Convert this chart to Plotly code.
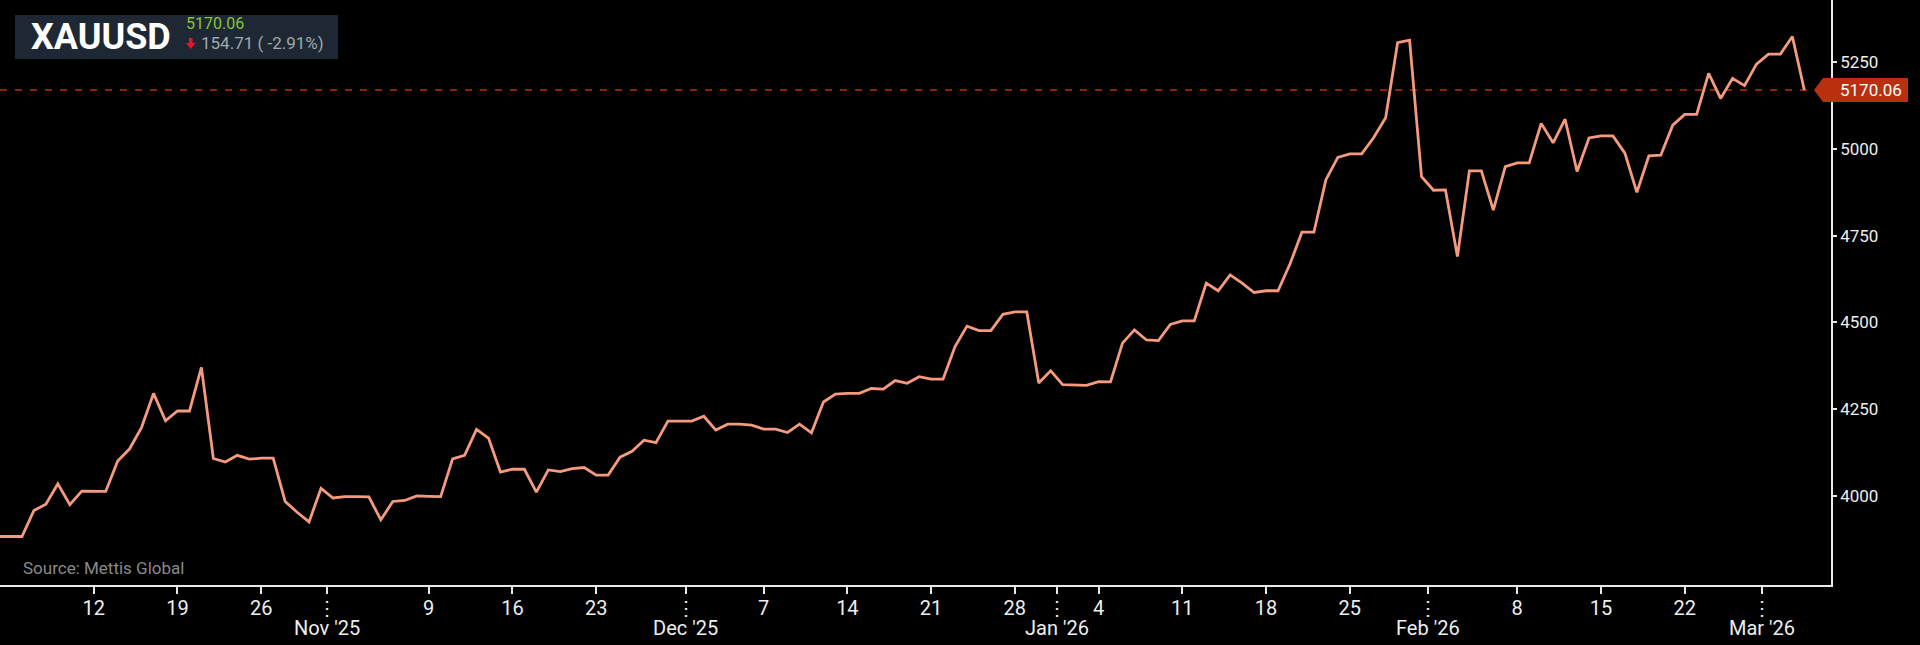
import pandas as pd
import plotly.graph_objects as go

# daily closes (weekend days carry the last quote)
start_date = "2025-10-04"
end_date = "2026-03-04"
oct_vals = [3882, 3882, 3882, 3957, 3975, 4034, 3974, 4013, 4012, 4012, 4100, 4135, 4197, 4295,
            4216, 4244, 4244, 4370, 4107, 4097, 4116, 4105, 4108, 4108, 3983, 3952, 3924, 4021]
nov_vals = [3993, 3997, 3997, 3996, 3930, 3983, 3986, 3999, 3998, 3997, 4106, 4116, 4191, 4166, 4068,
            4076, 4076, 4010, 4074, 4069, 4078, 4081, 4059, 4059, 4111, 4128, 4160, 4153, 4215, 4215]
dec_vals = [4215, 4229, 4189, 4206, 4206, 4203, 4192, 4192, 4182, 4206, 4181, 4270, 4293, 4295, 4295, 4309,
            4307, 4332, 4324, 4343, 4336, 4336, 4430, 4489, 4476, 4476, 4523, 4530, 4530, 4325, 4360]
jan_vals = [4320, 4320, 4318, 4329, 4328, 4440, 4478, 4449, 4447, 4494, 4504, 4504, 4613, 4591, 4637, 4613,
            4586, 4591, 4591, 4668, 4760, 4760, 4911, 4976, 4986, 4986, 5033, 5090, 5307, 5314, 4920]
feb_vals = [4881, 4882, 4690, 4937, 4937, 4824, 4949, 4960, 4960, 5074, 5018, 5086, 4935, 5032,
            5038, 5038, 4988, 4875, 4980, 4982, 5069, 5100, 5100, 5218, 5146, 5204, 5183, 5245]
mar_vals = [5274, 5274, 5324.77, 5170.06]

prices = oct_vals + nov_vals + dec_vals + jan_vals + feb_vals + mar_vals
dates = pd.date_range(start_date, end_date, freq="D")

last_price = prices[-1]
change = prices[-2] - prices[-1]
change_pct = change / prices[-2] * 100

y_ticks = [4000, 4250, 4500, 4750, 5000, 5250]
week_ticks = ["2025-10-12", "2025-10-19", "2025-10-26", "2025-11-09", "2025-11-16", "2025-11-23",
              "2025-12-07", "2025-12-14", "2025-12-21", "2025-12-28", "2026-01-04", "2026-01-11",
              "2026-01-18", "2026-01-25", "2026-02-08", "2026-02-15", "2026-02-22"]
month_ticks = ["2025-10-31 12:00", "2025-11-30 12:00", "2025-12-31 12:00", "2026-01-31 12:00", "2026-02-28 12:00"]
month_labels = ["Nov '25", "Dec '25", "Jan '26", "Feb '26", "Mar '26"]

tickvals = week_ticks + month_ticks
ticktext = [str(pd.Timestamp(d).day) for d in week_ticks] + ["\u22ee"] * len(month_ticks)

W, H = 1920, 645
PW, PH = 1831, 585   # plot area in px


def px(x):
    return x / PW


def py(y):
    return 1 - y / PH


NARROW = "Liberation Sans Narrow, Roboto, sans-serif"
LINE = "#f59a7e"
TAG = "#b9300f"

fig = go.Figure()
fig.add_trace(go.Scatter(x=dates, y=prices, mode="lines",
                         line=dict(color=LINE, width=2.8), hoverinfo="skip"))

half_tag = 12 * (5430 - 3742) / PH
shapes = [
    # last price dashed line
    dict(type="line", xref="paper", yref="y", x0=0, x1=px(1814), y0=last_price, y1=last_price,
         line=dict(color=TAG, width=1.5, dash="7px,8px"), layer="below"),
    # price tag
    dict(type="path", xref="paper", yref="y", fillcolor=TAG, line=dict(width=0), layer="above",
         path="M {a},{v} L {b},{t} L {c},{t} L {c},{bt} L {b},{bt} Z".format(
             a=px(1814), b=px(1823), c=px(1908), v=last_price,
             t=last_price + half_tag, bt=last_price - half_tag)),
    # header box
    dict(type="rect", xref="paper", yref="paper", x0=px(15), x1=px(338), y0=py(15), y1=py(59),
         fillcolor="#1d2834", line=dict(width=0), layer="above"),
    # red down arrow
    dict(type="path", xref="paper", yref="paper", fillcolor="#e8132d", line=dict(width=0), layer="above",
         path="M {a},{y1} L {b},{y1} L {b},{y2} L {c},{y2} L {m},{y3} L {d},{y2} L {e},{y2} Z".format(
             a=px(189), b=px(192.5), c=px(195.5), d=px(186), e=px(189), m=px(190.75),
             y1=py(38), y2=py(43), y3=py(49))),
]

annotations = [
    dict(text="<b>XAUUSD</b>", x=px(29), y=py(37), xref="paper", yref="paper", xanchor="left",
         yanchor="middle", showarrow=False, font=dict(family="Roboto", size=36, color="#ffffff")),
    dict(text=f"{last_price:.2f}", x=px(184), y=py(24), xref="paper", yref="paper", xanchor="left",
         yanchor="middle", showarrow=False, font=dict(family="Roboto", size=16, color="#86c43a")),
    dict(text=f"{change:.2f} ( -{change_pct:.2f}%)", x=px(199), y=py(43), xref="paper", yref="paper",
         xanchor="left", yanchor="middle", showarrow=False,
         font=dict(family="Roboto", size=17, color="#a3a7ab")),
    dict(text=f"{last_price:.2f}", x=px(1838), y=last_price, xref="paper", yref="y", xanchor="left",
         yanchor="middle", showarrow=False, font=dict(family="Roboto", size=17, color="#ffffff")),
    dict(text="Source: Mettis Global", x=px(21), y=py(568), xref="paper", yref="paper", xanchor="left",
         yanchor="middle", showarrow=False, font=dict(family=NARROW, size=17, color="#8a8a8a")),
]
# month names under the dotted month ticks
for m_tick, m_label in zip(month_ticks, month_labels):
    annotations.append(dict(text=m_label, x=m_tick, xref="x", y=py(628), yref="paper",
                            xanchor="center", yanchor="middle", showarrow=False,
                            font=dict(family=NARROW, size=20, color="#eeeeee")))

fig.update_layout(
    width=W, height=H,
    margin=dict(l=0, r=W - PW, t=0, b=H - PH, autoexpand=False),
    paper_bgcolor="#000000", plot_bgcolor="#000000",
    showlegend=False,
    shapes=shapes, annotations=annotations,
    xaxis=dict(type="date", range=["2025-10-04 03:55", "2026-03-06 05:30"],
               tickmode="array", tickvals=tickvals, ticktext=ticktext,
               showgrid=False, zeroline=False, showline=True, linecolor="#e8e8e8", linewidth=1.5,
               ticks="outside", ticklen=7, tickcolor="#e8e8e8", tickwidth=1.5,
               ticklabelstandoff=-3,
               tickfont=dict(family=NARROW, size=20, color="#eeeeee")),
    yaxis=dict(side="right", range=[3742, 5430], tickmode="array", tickvals=y_ticks,
               showgrid=False, zeroline=False, showline=True, linecolor="#e8e8e8", linewidth=1.5,
               ticks="outside", ticklen=4, tickcolor="#e8e8e8", tickwidth=1.5,
               tickfont=dict(family="Roboto", size=17, color="#eeeeee")),
)

fig.write_html("out.html", config={"displayModeBar": False},
               post_script="document.body.style.margin='0';document.body.style.background='#000';")
